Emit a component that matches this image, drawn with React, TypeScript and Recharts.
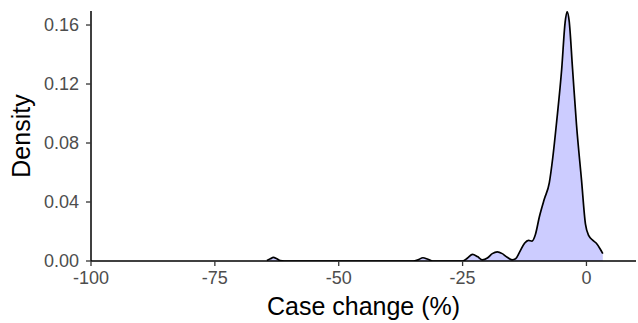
import React from 'react';
import { AreaChart, Area, XAxis, YAxis } from 'recharts';

// estimated kernel density of case change (%)
const caseChange = [
  -64.5, -63.8, -63.2, -62.5, -61.8, -61, -35, -34, -33, -32, -31, -25, -24, -23, -22, -21,
  -20, -19, -18, -17, -16, -15, -14.3, -13.5, -12.5, -11.7, -11, -10.3, -9.5, -8.5, -7.5,
  -6.8, -6, -5, -4.3, -3.9, -3.5, -2.8, -2, -1, -0.2, 0.5, 1.3, 2, 2.8, 3.3,
];
const density = [
  0.0004, 0.0015, 0.0025, 0.0015, 0.0003, 0, 0, 0.0008, 0.0022, 0.0012, 0, 0, 0.002, 0.0045,
  0.003, 0.0008, 0.002, 0.005, 0.0062, 0.005, 0.0025, 0.0008, 0.0015, 0.006, 0.012, 0.014,
  0.0135, 0.018, 0.03, 0.042, 0.053, 0.07, 0.095, 0.13, 0.162, 0.169, 0.163, 0.13, 0.092,
  0.055, 0.025, 0.017, 0.014, 0.012, 0.008, 0.005,
];
const xTicks = [-100, -75, -50, -25, 0];
const yTicks = [0, 0.04, 0.08, 0.12, 0.16];

const data = caseChange.map((x, i) => ({ x, density: density[i] }));

const font = '"Liberation Sans", Arial, sans-serif';
const tickStyle = { fill: '#4D4D4D', fontSize: 18, fontFamily: font };
const axisLine = { stroke: '#000', strokeWidth: 1.5 };
const tickLine = { stroke: '#333', strokeWidth: 1.3 };

export default function App() {
  return (
    <div style={{ position: 'absolute', left: 0, top: 0 }}>
      <AreaChart width={638} height={323} data={data} margin={{ top: 11, right: 2, left: 0, bottom: 0 }}>
        <XAxis
          dataKey="x"
          type="number"
          domain={[-100, 10]}
          ticks={xTicks}
          allowDataOverflow
          height={62}
          tick={tickStyle}
          tickSize={5}
          tickMargin={5}
          axisLine={axisLine}
          tickLine={tickLine}
          label={{
            value: 'Case change (%)',
            position: 'insideBottom',
            offset: 8,
            style: { fill: '#000', fontSize: 25, fontFamily: font },
          }}
        />
        <YAxis
          type="number"
          domain={[0, 0.1695]}
          ticks={yTicks}
          allowDataOverflow
          width={91}
          tick={tickStyle}
          tickFormatter={(v: number) => v.toFixed(2)}
          tickSize={5}
          tickMargin={7}
          axisLine={axisLine}
          tickLine={tickLine}
          label={{
            value: 'Density',
            position: 'center',
            angle: -90,
            dx: -24,
            style: { fill: '#000', fontSize: 25, fontFamily: font, textAnchor: 'middle' },
          }}
        />
        <Area
          type="monotone"
          dataKey="density"
          stroke="#000"
          strokeWidth={1.7}
          fill="#CCCCFF"
          fillOpacity={1}
          isAnimationActive={false}
          dot={false}
          activeDot={false}
        />
      </AreaChart>
    </div>
  );
}
